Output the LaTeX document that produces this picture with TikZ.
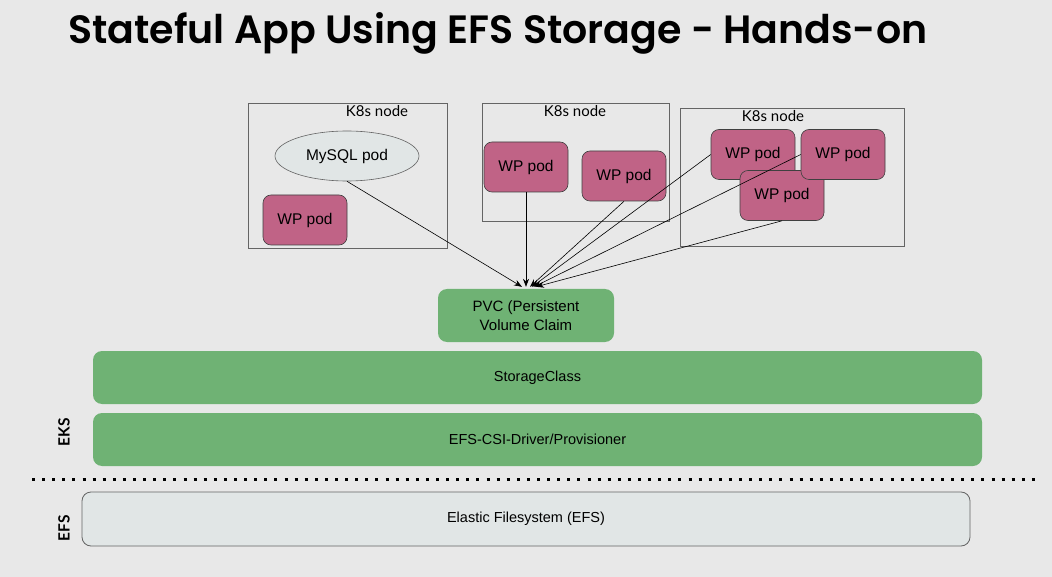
\documentclass[tikz,border=0pt]{standalone}
\usepackage{fontspec}
\setmainfont{Liberation Sans}
\newfontfamily\latofont{Lato}
\newfontfamily\titlefont{Poppins SemiBold}
\usetikzlibrary{shapes.geometric,arrows.meta}
\definecolor{bgc}{RGB}{232,232,232}
\definecolor{podpink}{RGB}{192,99,134}
\definecolor{boxgreen}{RGB}{111,178,116}
\definecolor{lightfill}{RGB}{225,230,230}
\definecolor{edgegray}{RGB}{100,100,100}
\tikzset{
  podbox/.style={draw=black!75, line width=0.6pt, fill=podpink, rounded corners=8pt,
    minimum width=84pt, minimum height=50pt, font=\fontsize{15.5}{18}\selectfont, inner sep=0pt},
  k8sbox/.style={draw=edgegray, line width=0.8pt, fill=none, inner sep=0pt},
  k8slabel/.style={font=\latofont\fontsize{15}{17}\selectfont, inner sep=0pt},
  greenbar/.style={fill=boxgreen, draw=none, rounded corners=9pt, inner sep=0pt,
    font=\fontsize{14.5}{18}\selectfont},
  conn/.style={-{Stealth[length=8pt,width=6pt]}, line width=0.6pt, black},
  sidelabel/.style={rotate=90, font=\latofont\bfseries\fontsize{15.5}{17}\selectfont, inner sep=0pt},
}
\begin{document}
\begin{tikzpicture}[x=1pt,y=-1pt]
\fill[bgc] (0,0) rectangle (1052,577);
\useasboundingbox (0,0) rectangle (1052,577);

% title
\node[anchor=west, inner sep=0pt, font=\titlefont\fontsize{39.5}{44}\selectfont] (title) at (68,33) {Stateful App Using EFS Storage - Hands-on};

% K8s nodes
\node[k8sbox, minimum width=199pt, minimum height=145pt] (node1) at (347.5,175.5) {};
\node[k8slabel] (node1lbl) at (377,111) {K8s node};
\node[k8sbox, minimum width=187pt, minimum height=118pt] (node2) at (575.5,162) {};
\node[k8slabel] (node2lbl) at (575,111) {K8s node};
\node[k8sbox, minimum width=224pt, minimum height=138pt] (node3) at (792,177) {};
\node[k8slabel] (node3lbl) at (773,116) {K8s node};

% pods
\node[ellipse, draw=edgegray, line width=0.6pt, fill=lightfill, minimum width=144pt, minimum height=50pt,
  inner sep=0pt, font=\fontsize{15.5}{18}\selectfont] (mysql) at (347,156) {MySQL pod};
\node[podbox] (wp1) at (305,220) {WP pod};
\node[podbox] (wp2a) at (526,167) {WP pod};
\node[podbox] (wp2b) at (624,176) {WP pod};
\node[podbox] (wp3a) at (753,154.5) {WP pod};
\node[podbox] (wp3c) at (782,195.5) {WP pod};
\node[podbox] (wp3b) at (843,154.5) {WP pod};

% PVC
\node[greenbar, minimum width=176pt, minimum height=53pt, align=center,
  font=\fontsize{15}{19}\selectfont] (pvc) at (526,315.5) {PVC (Persistent\\Volume Claim};

% connectors
\draw[conn] (mysql.south) -- ([xshift=-4pt,yshift=2pt]pvc.north);
\draw[conn] (wp2a.south) -- ([yshift=2pt]pvc.north);
\draw[conn] (wp2b.south) -- ([xshift=4pt,yshift=2pt]pvc.north);
\draw[conn] (wp3a.west) -- ([xshift=6pt,yshift=2pt]pvc.north);
\draw[conn] (wp3b.west) -- ([xshift=8pt,yshift=2pt]pvc.north);
\draw[conn] (wp3c.south) -- ([xshift=10pt,yshift=2pt]pvc.north);

% layers
\node[greenbar, minimum width=889pt, minimum height=53pt] (sc) at (537.5,377.5) {StorageClass};
\node[greenbar, minimum width=889pt, minimum height=53pt] (csi) at (537.5,439.5) {EFS-CSI-Driver/Provisioner};

\coordinate (dotL) at (32,479);
\coordinate (dotR) at (1040,479);
\draw[line width=3pt, dash pattern=on 3pt off 7.1pt] (dotL) -- (dotR);

\node[draw=edgegray, line width=0.8pt, fill=lightfill, rounded corners=9pt, minimum width=888pt,
  minimum height=54pt, inner sep=0pt, font=\fontsize{14.5}{18}\selectfont] (efs) at (526,519) {Elastic Filesystem (EFS)};

\node[sidelabel] (ekslbl) at (64,432) {EKS};
\node[sidelabel] (efslbl) at (64,528) {EFS};
\end{tikzpicture}
\end{document}
